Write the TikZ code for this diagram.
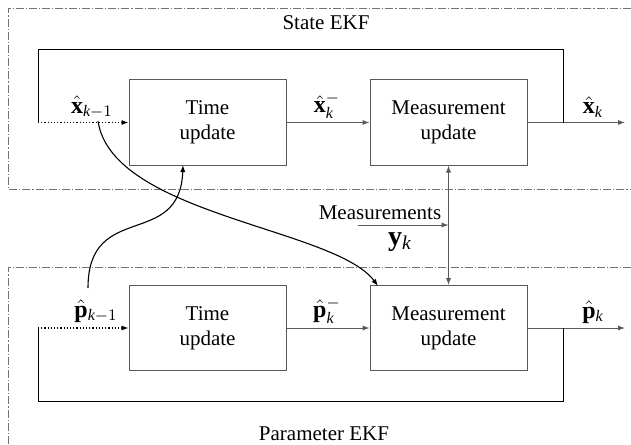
\documentclass[tikz,border=0pt]{standalone}
\usepackage{fontspec}
\setmainfont{Liberation Serif}
\usetikzlibrary{arrows.meta}
\definecolor{boxgray}{gray}{0.35}
\definecolor{framegray}{gray}{0.45}
\newcommand{\kk}{\mathit{k}}
\begin{document}
\begin{tikzpicture}[x=0.5pt,y=-0.5pt,
  font=\fontsize{10.5}{12.5}\selectfont,
  blk/.style={draw=boxgray, line width=0.5pt, minimum width=78.5pt,
    minimum height=42.5pt, align=center, inner sep=0pt},
  tip/.style={-{Latex[length=3.5pt,width=2.6pt]}},
  conn/.style={draw=boxgray, line width=0.5pt},
  fb/.style={draw=black, line width=0.5pt},
  dots/.style={draw=black, line width=0.55pt, dash pattern=on 0.6pt off 1pt},
  curve/.style={draw=black, line width=0.55pt},
  frame/.style={draw=framegray, line width=0.4pt,
    dash pattern=on 4pt off 1pt on 0.6pt off 1pt},
  lbl/.style={inner sep=0pt},
  sig/.style={inner sep=0pt, font=\fontsize{12}{14}\selectfont}]
\useasboundingbox (0,0) rectangle (631,444);

% dash-dotted frames of the two filters
\draw[frame] (631,8) -- (8,8) -- (8,189) -- (631,189);
\draw[frame] (631,267) -- (8,267) -- (8,444);
\node[lbl] (tS) at (326,23) {State EKF};
\node[lbl] (tP) at (324,434) {Parameter EKF};

% blocks
\node[blk] (tuS) at (207.5,122.5) {Time\\update};
\node[blk] (muS) at (448.5,122.5) {Measurement\\update};
\node[blk] (tuP) at (207.5,328) {Time\\update};
\node[blk] (muP) at (448.5,328) {Measurement\\update};

% state loop
\coordinate (inS) at (38,122.5);
\coordinate (cS1) at (38,50);
\coordinate (cS2) at (563,50);
\coordinate (brS) at (563,122.5);
\coordinate (outS) at (625,122.5);
\draw[dots,tip] (inS) -- (tuS.west);
\draw[conn,tip] (tuS.east) -- (muS.west);
\draw[conn,tip] (muS.east) -- (outS);
\draw[fb] (brS) -- (cS2) -- (cS1) -- (inS);

% parameter loop
\coordinate (inP) at (38,328);
\coordinate (cP1) at (38,401);
\coordinate (cP2) at (563,401);
\coordinate (brP) at (563,328);
\coordinate (outP) at (625,328);
\draw[dots,tip] (inP) -- (tuP.west);
\draw[conn,tip] (tuP.east) -- (muP.west);
\draw[conn,tip] (muP.east) -- (outP);
\draw[fb] (brP) -- (cP2) -- (cP1) -- (inP);

% measurements
\draw[conn,{Latex[length=3.5pt,width=2.6pt]}-{Latex[length=3.5pt,width=2.6pt]}] (muS.south) -- (muP.north);
\coordinate (mIn) at (358,225);
\coordinate (mJoin) at (448.5,225);
\draw[conn,tip] (mIn) -- (mJoin);
\node[lbl] (mTxt) at (380,213) {Measurements};
\node[sig, font=\fontsize{14}{16}\selectfont] (yk) at (400,242) {$\mathbf{y}_{\kk}$};

% signal labels
\node[sig] (xkm1) at (92,107) {$\hat{\mathbf{x}}_{\kk-1}$};
\node[sig] (xkmin) at (327,106) {$\hat{\mathbf{x}}_{\kk}^{-}$};
\node[sig] (xk) at (593,107) {$\hat{\mathbf{x}}_{\kk}$};
\node[sig] (pkm1) at (96,311) {$\hat{\mathbf{p}}_{\kk-1}$};
\node[sig] (pkmin) at (327,311) {$\hat{\mathbf{p}}_{\kk}^{-}$};
\node[sig] (pk) at (593,312) {$\hat{\mathbf{p}}_{\kk}$};

% cross couplings between the filters
\coordinate (xs) at (98,121);
\coordinate (ps) at (88,288);
\coordinate (muPin) at (378,286);
\coordinate (tuSin) at (183,165);
\draw[curve,tip] (xs) .. controls (112,215) and (335,228) .. (muPin);
\draw[curve,tip] (ps) .. controls (88,200) and (180,250) .. (tuSin);
\end{tikzpicture}
\end{document}
